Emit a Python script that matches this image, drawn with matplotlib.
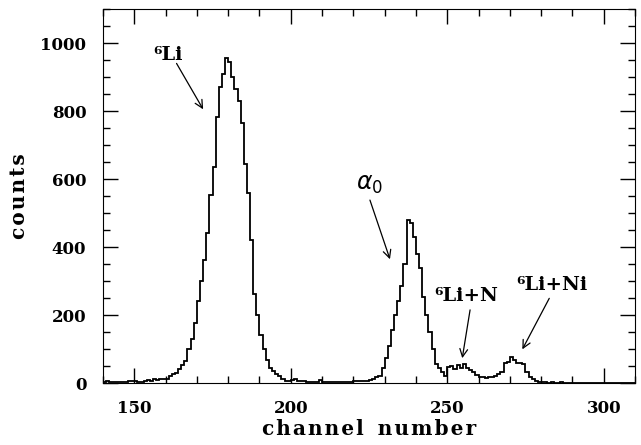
import numpy as np
import matplotlib.pyplot as plt
from matplotlib.ticker import MultipleLocator

plt.rcParams['font.family'] = ['DejaVu Serif', 'DejaVu Sans']
plt.rcParams['mathtext.fontset'] = 'dejavusans'

# channel spectrum, one bin per channel starting at 140
first_channel = 140
counts = [
    3, 5, 2, 3, 2, 4, 3, 3, 5, 6,
    5, 4, 4, 7, 8, 6, 12, 10, 12, 13,
    12, 22, 27, 30, 40, 52, 65, 100, 130, 176,
    242, 300, 362, 440, 553, 636, 783, 871, 908, 955,
    945, 900, 865, 830, 765, 645, 560, 420, 263, 200,
    141, 100, 68, 44, 35, 27, 20, 12, 7, 5,
    9, 12, 7, 6, 5, 4, 4, 3, 4, 8,
    4, 3, 3, 3, 2, 2, 2, 2, 3, 2,
    5, 6, 6, 7, 6, 10, 13, 17, 20, 45,
    75, 110, 155, 200, 240, 285, 350, 478, 470, 430,
    380, 337, 254, 200, 150, 100, 56, 43, 32, 20,
    48, 50, 42, 53, 45, 55, 43, 38, 31, 24,
    19, 17, 16, 17, 19, 22, 27, 31, 58, 63,
    77, 67, 58, 60, 55, 33, 19, 11, 6, 4,
    2, 3, 1, 2, 1, 1, 2, 1, 1, 1,
    1, 1, 0, 1, 1, 0, 1, 1, 0, 1,
    0, 1, 0, 0, 1, 0, 0, 0, 0, 0,
]
edges = np.arange(first_channel, first_channel + len(counts) + 1)

# peak labels: text, text position, arrow start, arrow tip
labels = ['\u2076Li', r'$\alpha_0$', '\u2076Li+N', '\u2076Li+Ni']
label_pos = [(156, 950), (221, 568), (246, 241), (272.2, 273)]
arrow_from = [(163.5, 940), (225.3, 538), (257.3, 215), (282.6, 249)]
arrow_to = [(172, 805), (231.7, 364), (254.8, 73), (274, 99)]


def spaced(s):
    # the original labels are typeset with wide letter spacing
    return '\u200a'.join(s)


fig = plt.figure(figsize=(6.41, 4.45), dpi=100)
ax = fig.add_axes([103 / 641, 62 / 445, 532 / 641, 374 / 445])

ax.stairs(counts, edges, color='black', lw=1.3)

ax.set_xlim(140, 310)
ax.set_ylim(0, 1100)
ax.xaxis.set_major_locator(MultipleLocator(50))
ax.xaxis.set_minor_locator(MultipleLocator(10))
ax.yaxis.set_major_locator(MultipleLocator(200))
ax.yaxis.set_minor_locator(MultipleLocator(50))
ax.tick_params(which='both', direction='in', top=True, right=True, width=1)
ax.tick_params(which='major', length=11)
ax.tick_params(which='minor', length=5)
ax.tick_params(axis='y', pad=12)
ax.tick_params(axis='x', pad=12)
for lab in ax.get_xticklabels() + ax.get_yticklabels():
    lab.set_fontweight('bold')
    lab.set_fontsize(12)

ax.set_xlabel(spaced('channel') + '  ' + spaced('number'), fontsize=14.5,
              fontweight='bold', labelpad=2)
ax.set_ylabel(spaced('counts'), fontsize=14.5, fontweight='bold', labelpad=8)

for i, txt in enumerate(labels):
    if txt.startswith('$'):
        ax.text(*label_pos[i], txt, fontsize=17, ha='left', va='baseline')
    else:
        ax.text(*label_pos[i], txt, fontsize=14, fontweight='bold',
                ha='left', va='baseline')
    ax.annotate('', xy=arrow_to[i], xytext=arrow_from[i],
                arrowprops=dict(arrowstyle='->', color='black', lw=0.9,
                                mutation_scale=14, shrinkA=0, shrinkB=0))

fig.savefig('out.png', dpi=100)
